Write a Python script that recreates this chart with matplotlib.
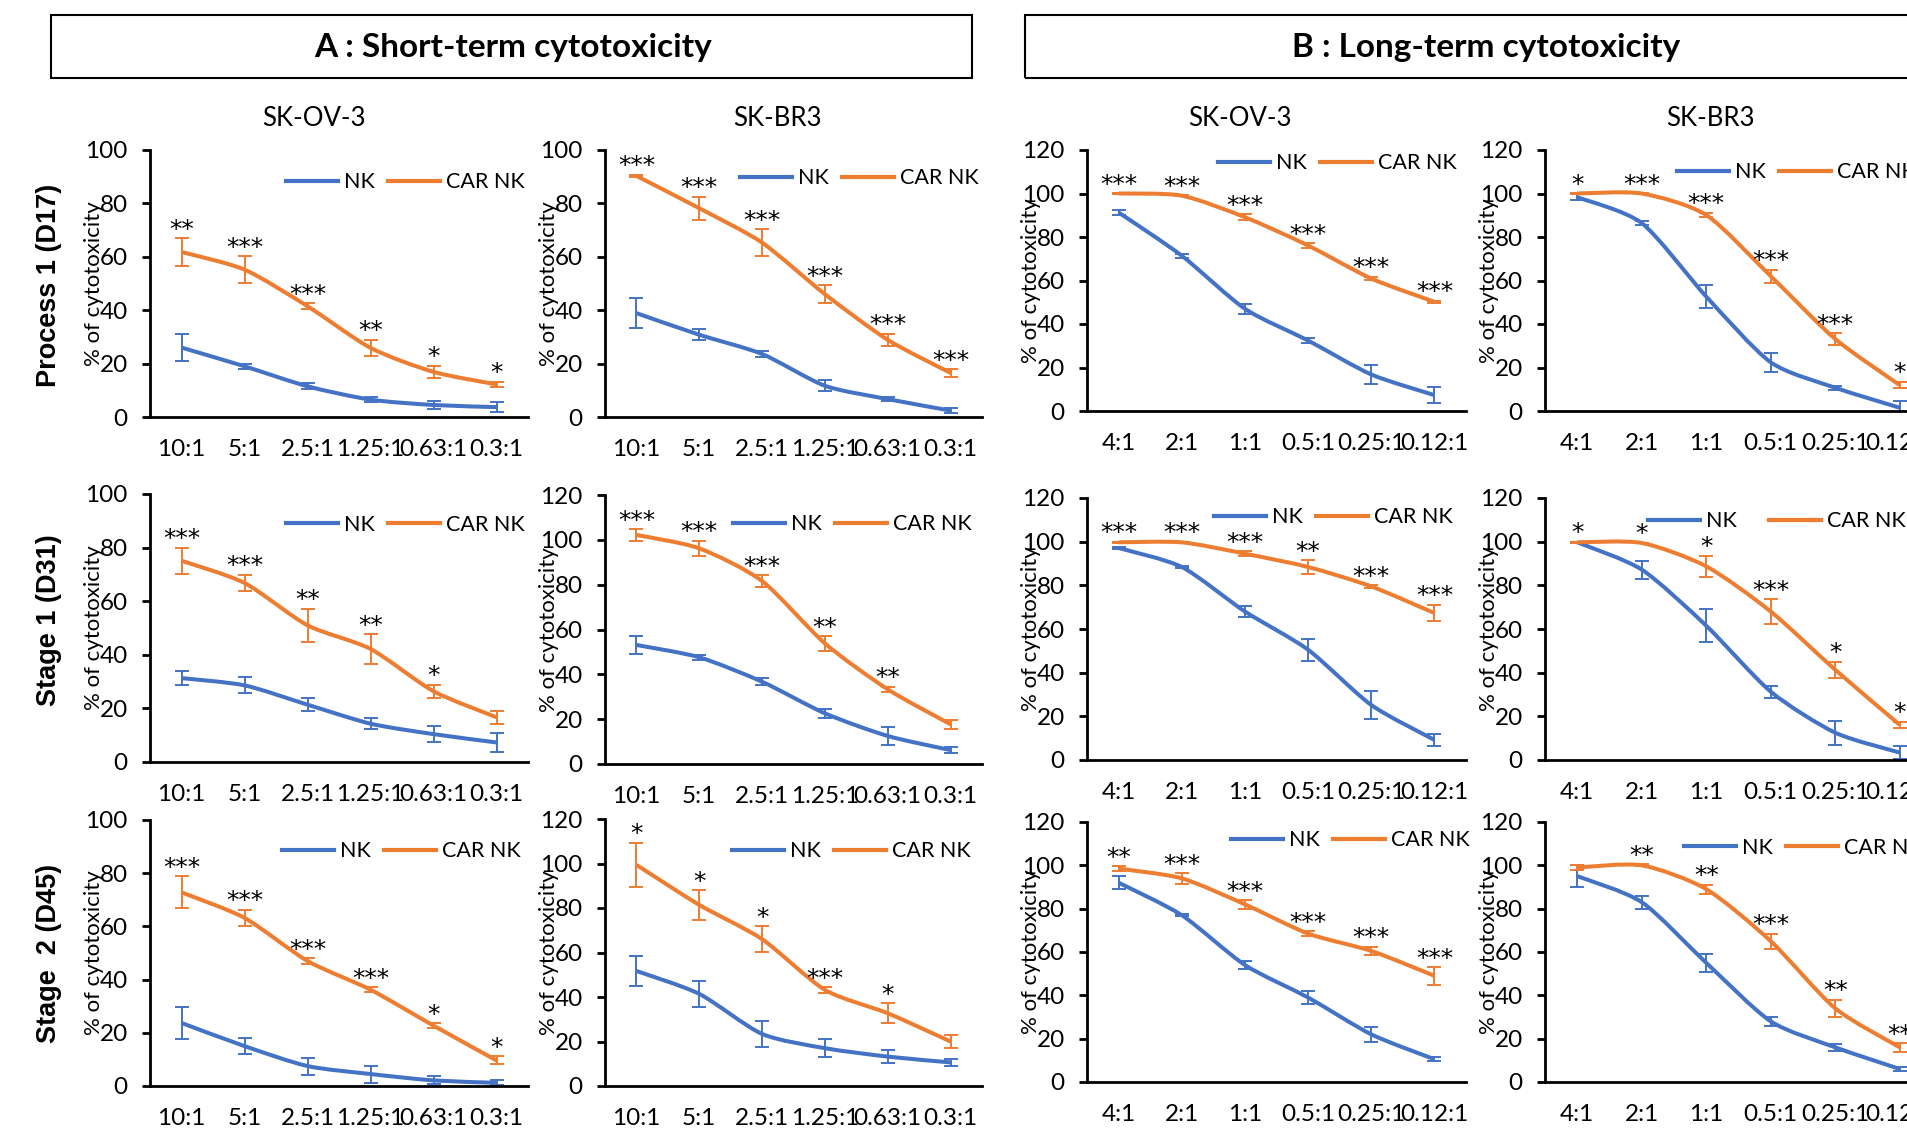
import matplotlib.pyplot as plt
from matplotlib.lines import Line2D
from matplotlib.patches import Rectangle, PathPatch
from matplotlib.path import Path
from matplotlib.transforms import offset_copy

plt.rcParams['font.family'] = ['Lato', 'DejaVu Sans']

W, H = 1907, 1129
BLUE = '#4472C4'
ORANGE = '#ED7D31'

# effector:target ratios
ratios_a = ['10:1', '5:1', '2.5:1', '1.25:1', '0.63:1', '0.3:1']
ratios_b = ['4:1', '2:1', '1:1', '0.5:1', '0.25:1', '0.12:1']

# ---- A : short-term, SK-OV-3
a_ov_p1_nk = [26, 19, 11.5, 6.5, 4.5, 3.7]
a_ov_p1_nk_err = [5.2, 1, 1.2, 1, 1.5, 2]
a_ov_p1_car = [61.8, 55.2, 41.5, 25.9, 16.9, 12.2]
a_ov_p1_car_err = [5.2, 5, 1.2, 3, 2.3, 1]
a_ov_p1_sig = ['**', '***', '***', '**', '*', '*']

a_ov_s1_nk = [31.3, 28.6, 21.4, 14.3, 10.4, 7.3]
a_ov_s1_nk_err = [2.7, 3, 2.5, 2, 2.9, 3.5]
a_ov_s1_car = [75.1, 66.8, 51, 42.2, 26.4, 16.7]
a_ov_s1_car_err = [4.8, 3.1, 6.2, 5.6, 2.5, 2.5]
a_ov_s1_sig = ['***', '***', '**', '**', '*', '']

a_ov_s2_nk = [23.7, 15, 7.5, 4.5, 2.1, 1.2]
a_ov_s2_nk_err = [6.1, 3, 3.2, 3.2, 1.5, 1]
a_ov_s2_car = [72.8, 63.2, 47, 36.2, 22.7, 9.6]
a_ov_s2_car_err = [6, 3.1, 1, 1, 1, 1.5]
a_ov_s2_sig = ['***', '***', '***', '***', '*', '*']

# ---- A : short-term, SK-BR3
a_br_p1_nk = [38.9, 30.8, 23.6, 11.7, 6.7, 2.4]
a_br_p1_nk_err = [5.6, 2, 1, 2, 0.8, 1]
a_br_p1_car = [90.3, 78.2, 65.3, 46, 28.9, 16.5]
a_br_p1_car_err = [0.5, 4.3, 5, 3.3, 2.3, 1.5]
a_br_p1_sig = ['***', '***', '***', '***', '***', '***']

a_br_s1_nk = [53.1, 47.6, 36.7, 22.6, 12.5, 6.2]
a_br_s1_nk_err = [4, 1, 1.5, 2, 4.2, 1.5]
a_br_s1_car = [102.2, 96.2, 81.6, 53.8, 33.3, 17.7]
a_br_s1_car_err = [2.5, 3.4, 2.7, 3.3, 1.2, 1.9]
a_br_s1_sig = ['***', '***', '***', '**', '**', '']

a_br_s2_nk = [51.7, 41.4, 23.4, 17, 13.2, 10.6]
a_br_s2_nk_err = [6.9, 5.8, 6, 4, 3, 1.5]
a_br_s2_car = [99.4, 81.4, 66, 43.2, 32.7, 20]
a_br_s2_car_err = [10, 6.7, 5.7, 1.2, 4.5, 3]
a_br_s2_sig = ['*', '*', '*', '***', '*', '']

# ---- B : long-term, SK-OV-3
b_ov_p1_nk = [91.3, 71.4, 47, 32.4, 16.8, 7.3]
b_ov_p1_nk_err = [1.2, 1, 2.4, 1, 4.3, 3.7]
b_ov_p1_car = [100, 99, 89.1, 76.1, 60.9, 50.2]
b_ov_p1_car_err = [0.2, 0.3, 1.5, 1, 0.8, 0.5]
b_ov_p1_sig = ['***', '***', '***', '***', '***', '***']

b_ov_s1_nk = [97.1, 88.4, 68, 50.5, 25.2, 9.2]
b_ov_s1_nk_err = [0.3, 0.5, 2.6, 5, 6.6, 2.7]
b_ov_s1_car = [99.7, 99.7, 94.5, 88.4, 79.5, 67.3]
b_ov_s1_car_err = [0.2, 0.2, 1, 3, 0.5, 3.8]
b_ov_s1_sig = ['***', '***', '***', '**', '***', '***']

b_ov_s2_nk = [92, 77, 54, 39, 22, 10.5]
b_ov_s2_nk_err = [3, 0.5, 2, 3, 3.5, 1]
b_ov_s2_car = [98.5, 94, 82, 68.5, 60.5, 49]
b_ov_s2_car_err = [1, 2.5, 2, 1, 2, 4]
b_ov_s2_sig = ['**', '***', '***', '***', '***', '***']

# ---- B : long-term, SK-BR3
b_br_p1_nk = [98.3, 86.4, 52.6, 22.4, 10.7, 1.5]
b_br_p1_nk_err = [1.5, 0.8, 5.3, 4.3, 1, 3.3]
b_br_p1_car = [100, 100, 90.1, 62, 33.1, 11.9]
b_br_p1_car_err = [0.2, 0.2, 1, 3, 2.7, 1.5]
b_br_p1_sig = ['*', '***', '***', '***', '***', '*']

b_br_s1_nk = [99.7, 87.2, 61.5, 31.3, 12.5, 3.4]
b_br_s1_nk_err = [0.3, 4.1, 7.6, 2.8, 5.5, 3]
b_br_s1_car = [99.7, 99.4, 88.7, 68, 41.3, 16.1]
b_br_s1_car_err = [0.2, 0.2, 4.9, 5.7, 3.8, 1.5]
b_br_s1_sig = ['*', '*', '*', '***', '*', '*']

b_br_s2_nk = [95, 83, 55, 28, 16, 6]
b_br_s2_nk_err = [5, 3, 4, 2, 1.5, 1]
b_br_s2_car = [99, 100, 89, 65, 34, 16]
b_br_s2_car_err = [1, 0.5, 2, 3.5, 4, 2]
b_br_s2_sig = ['', '**', '**', '***', '**', '**']

row_labels = ['Process 1 (D17)', 'Stage 1 (D31)', 'Stage  2 (D45)']
col_titles = ['SK-OV-3', 'SK-BR3', 'SK-OV-3', 'SK-BR3']
headers = ['A : Short-term cytotoxicity', 'B : Long-term cytotoxicity']

panels = [
    [(a_ov_p1_nk, a_ov_p1_nk_err, a_ov_p1_car, a_ov_p1_car_err, a_ov_p1_sig, ratios_a, 100),
     (a_br_p1_nk, a_br_p1_nk_err, a_br_p1_car, a_br_p1_car_err, a_br_p1_sig, ratios_a, 100),
     (b_ov_p1_nk, b_ov_p1_nk_err, b_ov_p1_car, b_ov_p1_car_err, b_ov_p1_sig, ratios_b, 120),
     (b_br_p1_nk, b_br_p1_nk_err, b_br_p1_car, b_br_p1_car_err, b_br_p1_sig, ratios_b, 120)],
    [(a_ov_s1_nk, a_ov_s1_nk_err, a_ov_s1_car, a_ov_s1_car_err, a_ov_s1_sig, ratios_a, 100),
     (a_br_s1_nk, a_br_s1_nk_err, a_br_s1_car, a_br_s1_car_err, a_br_s1_sig, ratios_a, 120),
     (b_ov_s1_nk, b_ov_s1_nk_err, b_ov_s1_car, b_ov_s1_car_err, b_ov_s1_sig, ratios_b, 120),
     (b_br_s1_nk, b_br_s1_nk_err, b_br_s1_car, b_br_s1_car_err, b_br_s1_sig, ratios_b, 120)],
    [(a_ov_s2_nk, a_ov_s2_nk_err, a_ov_s2_car, a_ov_s2_car_err, a_ov_s2_sig, ratios_a, 100),
     (a_br_s2_nk, a_br_s2_nk_err, a_br_s2_car, a_br_s2_car_err, a_br_s2_sig, ratios_a, 120),
     (b_ov_s2_nk, b_ov_s2_nk_err, b_ov_s2_car, b_ov_s2_car_err, b_ov_s2_sig, ratios_b, 120),
     (b_br_s2_nk, b_br_s2_nk_err, b_br_s2_car, b_br_s2_car_err, b_br_s2_sig, ratios_b, 120)],
]

# layout in pixels of the original image
col_x = [(150, 528), (605, 982), (1087, 1466), (1545, 1932)]
row_y = [[(150, 417), (150, 417), (150, 411), (150, 411)],
         [(494, 762), (495, 764), (498, 760), (498, 760)],
         [(820, 1086), (819, 1086), (822, 1082), (822, 1082)]]
# legend anchor (x of NK handle start, y centre) in axes fraction
leg_pos = [[(0.36, 0.88), (0.358, 0.895), (0.346, 0.95), (0.341, 0.915)],
           [(0.36, 0.885), (0.34, 0.892), (0.335, 0.927), (0.266, 0.912)],
           [(0.35, 0.883), (0.337, 0.88), (0.38, 0.93), (0.36, 0.9)]]


def smooth_path(xs, ys, k=8):
    # smoothed line like Excel: cubic Bezier through every point
    pts = list(zip(xs, ys))
    verts = [pts[0]]
    codes = [Path.MOVETO]
    n = len(pts)
    for i in range(n - 1):
        p0 = pts[max(i - 1, 0)]
        p1 = pts[i]
        p2 = pts[i + 1]
        p3 = pts[min(i + 2, n - 1)]
        c1 = (p1[0] + (p2[0] - p0[0]) / k, p1[1] + (p2[1] - p0[1]) / k)
        c2 = (p2[0] - (p3[0] - p1[0]) / k, p2[1] - (p3[1] - p1[1]) / k)
        verts += [c1, c2, p2]
        codes += [Path.CURVE4] * 3
    return Path(verts, codes)


fig = plt.figure(figsize=(W / 100, H / 100), dpi=100)

for r in range(3):
    for c in range(4):
        nk, nk_err, car, car_err, sig, ratios, ymax = panels[r][c]
        x0, x1 = col_x[c]
        y0, y1 = row_y[r][c]
        ax = fig.add_axes([x0 / W, 1 - y1 / H, (x1 - x0) / W, (y1 - y0) / H])
        xs = list(range(len(ratios)))
        for vals, errs, col in [(nk, nk_err, BLUE), (car, car_err, ORANGE)]:
            ax.add_patch(PathPatch(smooth_path(xs, vals), fill=False, ec=col, lw=2.9,
                                   capstyle='butt', joinstyle='round'))
            ax.errorbar(xs, vals, yerr=errs, fmt='none', ecolor=col, elinewidth=1.4,
                        capsize=5, capthick=1.4)
        tops = [v + e for v, e in zip(car, car_err)]
        for i, s in enumerate(sig):
            if s:
                ax.annotate(s, (xs[i], tops[i]), xytext=(0, 1), textcoords='offset points',
                            ha='center', va='baseline', fontsize=18, family='DejaVu Sans')
        ax.set_xlim(-0.5, len(ratios) - 0.5)
        ax.set_ylim(0, ymax)
        ax.set_xticks(xs, ratios)
        ax.set_yticks(range(0, ymax + 1, 20))
        ax.tick_params(axis='x', length=0, pad=16, labelsize=17.5)
        ax.tick_params(axis='y', length=6, width=2, pad=10, labelsize=17.5)
        for sp in ['top', 'right']:
            ax.spines[sp].set_visible(False)
        for sp in ['left', 'bottom']:
            ax.spines[sp].set_linewidth(2)
        ax.text(0, 0.5, '% of cytotoxicity', rotation=90, ha='center', va='center',
                fontsize=16, transform=offset_copy(ax.transAxes, fig, x=-56, y=0, units='dots'))
        handles = [Line2D([], [], color=BLUE, lw=3), Line2D([], [], color=ORANGE, lw=3)]
        lx, ly = leg_pos[r][c]
        ax.legend(handles, ['NK', 'CAR NK'], loc='center left', bbox_to_anchor=(lx, ly),
                  ncol=2, frameon=False, fontsize=15.5, borderpad=0, borderaxespad=0,
                  handlelength=2.4, handletextpad=0.3,
                  columnspacing=1.5 if (r, c) == (1, 3) else 0.6)

# section headers
for (bx0, bx1, tx), text in zip([(51, 972, 513), (1025, 1943, 1486)], headers):
    fig.add_artist(Rectangle((bx0 / W, 1 - 78 / H), (bx1 - bx0) / W, 63 / H,
                             transform=fig.transFigure, fill=False, lw=1.5, ec='black'))
    fig.text(tx / W, 1 - 47 / H, text, ha='center', va='center', fontsize=24, weight='bold')

for tx, text in zip([314, 777, 1240, 1710], col_titles):
    fig.text(tx / W, 1 - 118 / H, text, ha='center', va='center', fontsize=18.5)

for ty, text in zip([285, 620, 953], row_labels):
    fig.text(49 / W, 1 - ty / H, text, rotation=90, ha='center', va='center',
             fontsize=19.5, weight='bold', family='Liberation Sans')

fig.savefig('out.png', dpi=100)
